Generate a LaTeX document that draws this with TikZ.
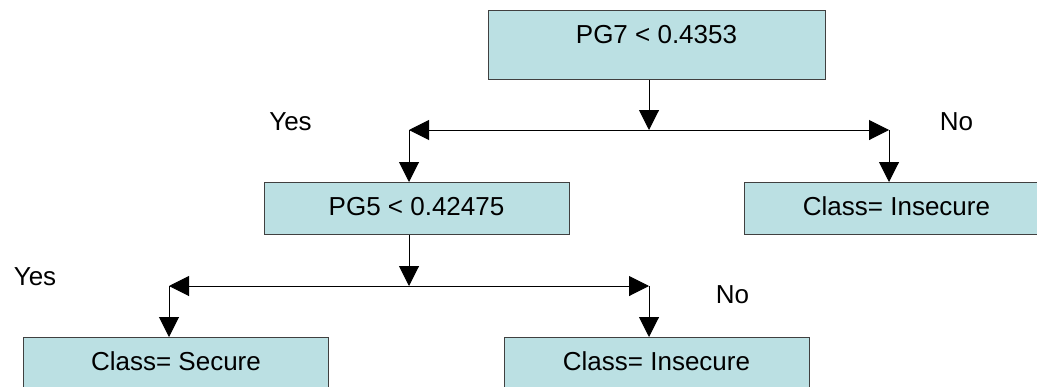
\documentclass[tikz,border=0pt]{standalone}
\usepackage{fontspec}
\setmainfont{Liberation Sans}
\usetikzlibrary{arrows.meta}
\definecolor{boxblue}{RGB}{187,224,227}
\definecolor{rand}{RGB}{64,64,64}

\begin{document}
\begin{tikzpicture}[x=0.75pt, y=-0.75pt,
		>={Triangle[length=15pt,width=15pt]},   %Pfeilspitzen
		box/.style={draw=rand, fill=boxblue, line width=0.75pt, minimum width=228.75pt,
			inner xsep=0pt, inner ysep=0pt, text height=24.75pt, text depth=14.25pt, anchor=north},
		lbl/.style={anchor=base, inner sep=0pt},
		font=\fontsize{19.5}{23}\selectfont]
		\useasboundingbox (0,0) rectangle (1037,386);
		% Knoten
		\node[box, minimum width=252.75pt, text depth=27pt] (pg7) at (656.5,10) {PG7 < 0.4353};
		\node[box] (pg5) at (416.5,182) {PG5 < 0.42475};
		\node[box] (ins1) at (896.5,182) {Class= Insecure};
		\node[box] (sec) at (176,337) {Class= Secure};
		\node[box] (ins2) at (656.5,337) {Class= Insecure};
		% Beschriftungen
		\node[lbl] (yes1) at (290.5,130) {Yes};
		\node[lbl] (no1) at (956.5,130) {No};
		\node[lbl] (yes2) at (35,285) {Yes};
		\node[lbl] (no2) at (732.5,303) {No};
		% Verzweigungen
		\coordinate (j1) at (649,130);
		\coordinate (l1) at (409,130);
		\coordinate (r1) at (889,130);
		\coordinate (j2) at (409,286);
		\coordinate (l2) at (169,286);
		\coordinate (r2) at (649,286);
		% Pfeile
		\begin{scope}[draw=black, line width=0.75pt]
		\draw[->] (pg7.south -| j1) -- (j1);
		\draw[->] (pg5.south -| j2) -- (j2);
		\foreach \a/\b in {j1/l1, j1/r1, j2/l2, j2/r2} \draw[->] (\a) -- (\b);
		\draw[->] (l1) -- (l1 |- pg5.north);
		\draw[->] (r1) -- (r1 |- ins1.north);
		\draw[->] (l2) -- (l2 |- sec.north);
		\draw[->] (r2) -- (r2 |- ins2.north);
		\end{scope}
	\end{tikzpicture}
\end{document}
